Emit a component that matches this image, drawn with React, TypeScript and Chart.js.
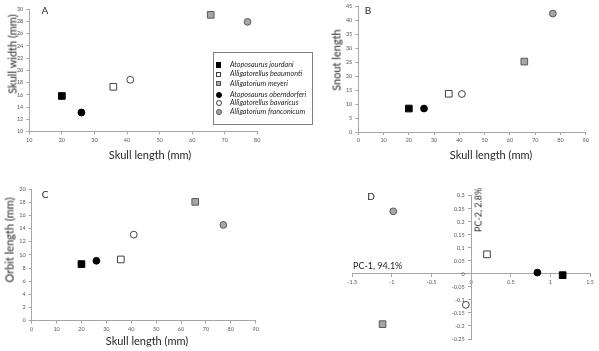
import React, { useEffect, useRef } from 'react';
import { Chart, registerables } from 'chart.js';
Chart.register(...registerables);

// ---- data ----
const species = [
  'Atoposaurus jourdani',
  'Alligatorellus beaumonti',
  'Alligatorium meyeri',
  'Atoposaurus oberndorferi',
  'Alligatorellus bavaricus',
  'Alligatorium franconicum',
];
const skullLength = [20, 35.8, 65.7, 26, 41, 77];
const skullWidth = [15.8, 17.3, 29.05, 13.1, 18.45, 27.9];
const snoutLength = [8.4, 13.7, 25.2, 8.4, 13.6, 42.4];
const orbitLength = [8.6, 9.3, 18.05, 9.1, 13.07, 14.55];
const pc1 = [1.155, 0.2, -1.118, 0.836, -0.067, -0.983];
const pc2 = [-0.005, 0.075, -0.193, 0.005, -0.119, 0.24];

// ---- styles (not data) ----
const markerShape = ['rect', 'rect', 'rect', 'circle', 'circle', 'circle'];
const markerFill = ['#000000', '#ffffff', '#a6a6a6', '#000000', '#ffffff', '#a6a6a6'];
const markerLine = ['#000000', '#404040', '#595959', '#000000', '#404040', '#595959'];

const TICK_FONT = { family: 'Lato', size: 5.5 };
const TICK_COLOR = '#595959';
const AXIS_COLOR = '#a6a6a6';
const TEXT_COLOR = '#262626';

type Rect = { left: number; top: number; w: number; h: number };
type Area = { l: number; r: number; t: number; b: number };

function makeDatasets(xs: number[], ys: number[]) {
  return species.map((name, i) => ({
    label: name,
    data: [{ x: xs[i], y: ys[i] }],
    pointStyle: markerShape[i],
    pointRadius: markerShape[i] === 'rect' ? 4.7 : 3.4,
    pointBackgroundColor: markerFill[i],
    pointBorderColor: markerLine[i],
    pointBorderWidth: 1,
    showLine: false,
  }));
}

function axisCommon(min: number, max: number, step: number) {
  return {
    type: 'linear' as const,
    min,
    max,
    border: { display: true, color: AXIS_COLOR, width: 1 },
    grid: { display: true, drawOnChartArea: false, drawTicks: true, tickLength: 3, color: AXIS_COLOR },
    ticks: {
      stepSize: step,
      font: TICK_FONT,
      color: TICK_COLOR,
      maxRotation: 0,
      autoSkip: false,
    } as any,
  };
}

// draws the y tick labels of a centred (crossing) y axis, left of the axis line
const centredYLabels = {
  id: 'centredYLabels',
  beforeDatasetsDraw(chart: any) {
    const ys = chart.scales.y;
    const xs = chart.scales.x;
    if (!ys || !chart.options.plugins.centredYLabels?.enabled) return;
    const ctx = chart.ctx;
    const x0 = xs.getPixelForValue(0);
    ctx.save();
    ctx.font = `${TICK_FONT.size}px ${TICK_FONT.family}`;
    ctx.fillStyle = TICK_COLOR;
    ctx.textAlign = 'right';
    ctx.textBaseline = 'middle';
    ys.ticks.forEach((t: any) => {
      const label = String(Math.round(t.value * 100) / 100);
      ctx.fillText(label, x0 - 6.5, ys.getPixelForValue(t.value));
    });
    ctx.restore();
  },
};

function ScatterPanel(props: {
  canvas: Rect;
  area: Area;
  xs: number[];
  ys: number[];
  xr: [number, number, number];
  yr: [number, number, number];
  centered?: boolean;
}) {
  const ref = useRef<HTMLCanvasElement>(null);
  useEffect(() => {
    if (!ref.current) return;
    const { canvas, area, centered } = props;
    const wy = centered ? 0 : 20;
    const hx = centered ? 0 : 16;
    const padding = {
      left: area.l - canvas.left - wy,
      right: canvas.left + canvas.w - area.r,
      top: area.t - canvas.top,
      bottom: canvas.top + canvas.h - area.b - hx,
    };
    const xAxis: any = axisCommon(props.xr[0], props.xr[1], props.xr[2]);
    const yAxis: any = axisCommon(props.yr[0], props.yr[1], props.yr[2]);
    xAxis.ticks.padding = 2;
    yAxis.ticks.padding = 3;
    if (centered) {
      xAxis.position = { y: 0 };
      yAxis.position = { x: 0 };
      xAxis.ticks.callback = (v: any) => String(Number(v));
      yAxis.ticks.callback = (v: any) => String(Math.round(Number(v) * 100) / 100);
      yAxis.ticks.color = 'rgba(0,0,0,0)';
    } else {
      xAxis.position = 'bottom';
      yAxis.position = 'left';
    }
    xAxis.afterFit = (s: any) => { s.height = hx; };
    yAxis.afterFit = (s: any) => { s.width = wy; };
    const chart = new Chart(ref.current, {
      type: 'scatter',
      data: { datasets: makeDatasets(props.xs, props.ys) as any },
      options: {
        responsive: false,
        animation: false,
        devicePixelRatio: 1,
        layout: { padding },
        plugins: {
          legend: { display: false },
          tooltip: { enabled: false },
          centredYLabels: { enabled: !!centered },
        } as any,
        scales: { x: xAxis, y: yAxis },
      },
      plugins: [centredYLabels as any],
    });
    return () => chart.destroy();
  }, []);
  const c = props.canvas;
  return (
    <canvas
      ref={ref}
      width={c.w}
      height={c.h}
      style={{ position: 'absolute', left: c.left, top: c.top, width: c.w, height: c.h }}
    />
  );
}

function Label(props: { x: number; y: number; text: string; size: number; rotate?: boolean; align?: 'left' | 'center' }) {
  const t = props.align === 'left'
    ? 'translate(0,-50%)'
    : props.rotate ? 'translate(-50%,-50%) rotate(-90deg)' : 'translate(-50%,-50%)';
  return (
    <div
      style={{
        position: 'absolute',
        left: props.x,
        top: props.y,
        transform: t,
        willChange: 'transform',
        whiteSpace: 'nowrap',
        fontSize: props.size,
        lineHeight: 1,
        fontFamily: 'Lato',
        color: TEXT_COLOR,
        zIndex: 3,
      }}
    >
      {props.text}
    </div>
  );
}

function Legend() {
  const rows = [12, 21.3, 30.7, 42.3, 50.3, 59.3];
  return (
    <div
      style={{
        position: 'absolute', left: 213, top: 52, width: 98, height: 71,
        border: '1px solid #7f7f7f', background: '#fff', zIndex: 2, willChange: 'transform',
      }}
    >
      {species.map((s, i) => {
        const isRect = markerShape[i] === 'rect';
        const size = isRect ? 5.5 : 6;
        return (
          <React.Fragment key={s}>
            <div
              style={{
                position: 'absolute', left: 4.5 - size / 2, top: rows[i] - size / 2,
                width: size, height: size, boxSizing: 'border-box',
                background: markerFill[i], border: `1px solid ${markerLine[i]}`,
                borderRadius: isRect ? 0 : '50%',
              }}
            />
            <div
              style={{
                position: 'absolute', left: 16, top: rows[i] - 4,
                fontFamily: 'Lato', fontStyle: 'italic', fontSize: 7.2, lineHeight: '8px',
                whiteSpace: 'nowrap', color: TEXT_COLOR,
              }}
            >
              {s}
            </div>
          </React.Fragment>
        );
      })}
    </div>
  );
}

export default function App() {
  return (
    <div style={{ position: 'absolute', left: 0, top: 0, width: 599, height: 351, background: '#fff', overflow: 'hidden' }}>
      <ScatterPanel
        canvas={{ left: 0, top: 0, w: 300, h: 175 }}
        area={{ l: 29.3, r: 257.3, t: 9, b: 131.5 }}
        xs={skullLength} ys={skullWidth} xr={[10, 80, 10]} yr={[10, 30, 2]}
      />
      <ScatterPanel
        canvas={{ left: 300, top: 0, w: 299, h: 175 }}
        area={{ l: 358.3, r: 585.7, t: 6, b: 132 }}
        xs={skullLength} ys={snoutLength} xr={[0, 90, 10]} yr={[0, 45, 5]}
      />
      <ScatterPanel
        canvas={{ left: 0, top: 175, w: 300, h: 176 }}
        area={{ l: 31.7, r: 255.7, t: 189, b: 320.7 }}
        xs={skullLength} ys={orbitLength} xr={[0, 90, 10]} yr={[0, 20, 2]}
      />
      <ScatterPanel
        canvas={{ left: 300, top: 175, w: 299, h: 176 }}
        area={{ l: 352.3, r: 590, t: 195.7, b: 339 }}
        xs={pc1} ys={pc2} xr={[-1.5, 1.5, 0.5]} yr={[-0.25, 0.3, 0.05]}
        centered
      />
      <Legend />
      <Label x={45} y={10} text="A" size={10} />
      <Label x={368} y={10} text="B" size={10} />
      <Label x={45} y={194} text="C" size={10} />
      <Label x={371} y={196} text="D" size={10} />
      <Label x={150} y={154} text="Skull length (mm)" size={11} />
      <Label x={11.7} y={54} text="Skull width (mm)" size={11} rotate />
      <Label x={491} y={154} text="Skull length (mm)" size={11} />
      <Label x={335.7} y={60} text="Snout length" size={11} rotate />
      <Label x={147} y={340} text="Skull length (mm)" size={11} />
      <Label x={9} y={240} text="Orbit length (mm)" size={11} rotate />
      <Label x={353} y={265} text="PC-1, 94.1%" size={9} align="left" />
      <Label x={478} y={210} text="PC-2, 2.8%" size={9} rotate />
    </div>
  );
}
